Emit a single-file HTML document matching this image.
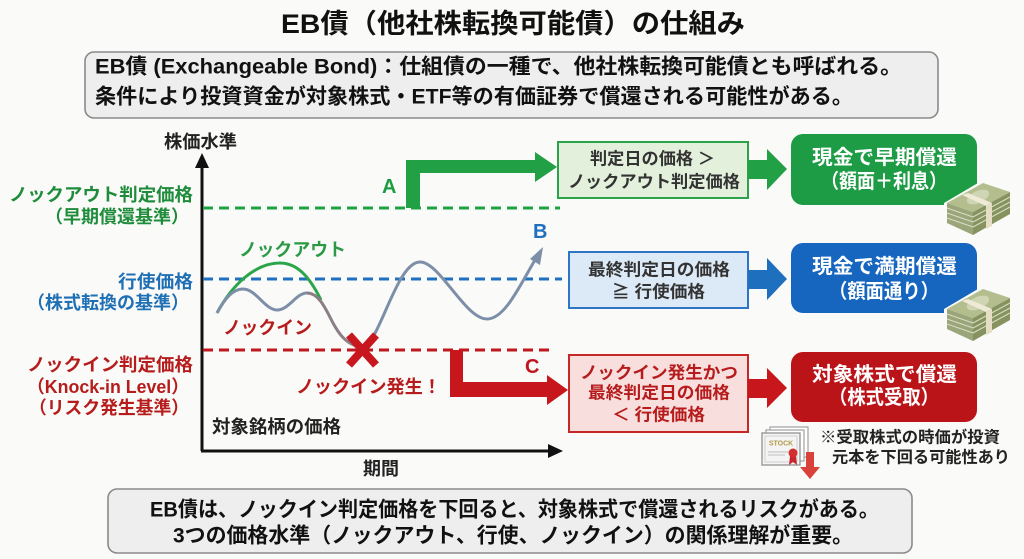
<!DOCTYPE html>
<html><head><meta charset="utf-8"><style>
html,body{margin:0;padding:0;background:#fafaf8;}
svg{display:block;}
text{font-family:"Liberation Sans","Noto Sans CJK JP",sans-serif;font-weight:bold;dominant-baseline:central;}
</style></head><body>
<svg width="1024" height="559" viewBox="0 0 1024 559" xmlns="http://www.w3.org/2000/svg">
<rect width="1024" height="559" fill="#fafaf8"/>
<!-- Title -->
<text x="281" y="24" font-size="27" fill="#111" textLength="464" lengthAdjust="spacingAndGlyphs">EB債（他社株転換可能債）の仕組み</text>
<!-- Info box -->
<rect x="85" y="52" width="853" height="66" rx="9" fill="#eeeeee" stroke="#8a8a8a" stroke-width="1.6"/>
<text x="95" y="67" font-size="21" fill="#111" textLength="807" lengthAdjust="spacingAndGlyphs">EB債 (Exchangeable Bond)：仕組債の一種で、他社株転換可能債とも呼ばれる。</text>
<text x="95" y="97" font-size="21" fill="#111" textLength="758" lengthAdjust="spacingAndGlyphs">条件により投資資金が対象株式・ETF等の有価証券で償還される可能性がある。</text>

<!-- Axes -->
<line x1="202" y1="451" x2="202" y2="166" stroke="#111" stroke-width="3"/>
<polygon points="202,153 195,168 209,168" fill="#111"/>
<line x1="201" y1="451" x2="550" y2="451" stroke="#111" stroke-width="3"/>
<polygon points="563,451 548,444 548,458" fill="#111"/>
<text x="164" y="142" font-size="18" fill="#222" textLength="73" lengthAdjust="spacingAndGlyphs">株価水準</text>
<text x="363" y="469" font-size="18" fill="#222" textLength="36" lengthAdjust="spacingAndGlyphs">期間</text>
<text x="212" y="427" font-size="18" fill="#222" textLength="129" lengthAdjust="spacingAndGlyphs">対象銘柄の価格</text>

<!-- Dashed lines -->
<line x1="203" y1="208" x2="560" y2="208" stroke="#22a046" stroke-width="3" stroke-dasharray="10,6"/>
<line x1="203" y1="279" x2="562" y2="279" stroke="#1f6fbf" stroke-width="3" stroke-dasharray="10,6"/>
<line x1="203" y1="350" x2="554" y2="350" stroke="#c0161d" stroke-width="3" stroke-dasharray="10,6"/>

<!-- Left labels -->
<text x="193" y="195" font-size="18" fill="#1e8c3a" text-anchor="end" textLength="184" lengthAdjust="spacingAndGlyphs">ノックアウト判定価格</text>
<text x="189" y="217" font-size="18" fill="#1e8c3a" text-anchor="end" textLength="144" lengthAdjust="spacingAndGlyphs">（早期償還基準）</text>
<text x="193" y="282" font-size="18" fill="#1f6fb5" text-anchor="end" textLength="75" lengthAdjust="spacingAndGlyphs">行使価格</text>
<text x="189" y="303" font-size="18" fill="#1f6fb5" text-anchor="end" textLength="162" lengthAdjust="spacingAndGlyphs">（株式転換の基準）</text>
<text x="193" y="365" font-size="18" fill="#b71c1c" text-anchor="end" textLength="166" lengthAdjust="spacingAndGlyphs">ノックイン判定価格</text>
<text x="189" y="387" font-size="18" fill="#b71c1c" text-anchor="end" textLength="162" lengthAdjust="spacingAndGlyphs">（Knock-in Level）</text>
<text x="189" y="408" font-size="18" fill="#b71c1c" text-anchor="end" textLength="160" lengthAdjust="spacingAndGlyphs">（リスク発生基準）</text>

<!-- Curves -->
<path d="M217,313 C232,285 255,263 280,263 C300,263 312,282 321,300" fill="none" stroke="#2aa54a" stroke-width="3"/>
<path d="M217,313 C225,298 233,289 243,289 C256,289 265,310 277,310 C289,310 296,293 307,293" fill="none" stroke="#7d8fa8" stroke-width="3"/>
<path d="M307,293 C320,293 327,312 333,323 C339,334 345,342 356,346" fill="none" stroke="#8c7e86" stroke-width="3"/>
<path d="M370,342 C385,320 400,262 420,262 C440,262 465,319 487,319 C505,319 520,285 535,260" fill="none" stroke="#7d8fa8" stroke-width="3"/>
<polygon points="543,247 530,259 540,265" fill="#7d8fa8"/>
<!-- X mark -->
<line x1="349" y1="335" x2="376" y2="365" stroke="#c8171e" stroke-width="8"/>
<line x1="376" y1="335" x2="349" y2="365" stroke="#c8171e" stroke-width="8"/>

<!-- Curve labels -->
<text x="239" y="250" font-size="18" fill="#2a9a45" textLength="107" lengthAdjust="spacingAndGlyphs">ノックアウト</text>
<text x="223" y="328" font-size="18" fill="#b71c1c" textLength="89" lengthAdjust="spacingAndGlyphs">ノックイン</text>
<text x="296" y="387" font-size="18" fill="#b71c1c" textLength="145" lengthAdjust="spacingAndGlyphs">ノックイン発生！</text>
<text x="382" y="187" font-size="20" fill="#1e9c3f">A</text>
<text x="533" y="232" font-size="20" fill="#1f6fbf">B</text>
<text x="525" y="367" font-size="20" fill="#c0161d">C</text>

<!-- Arrow A -->
<polygon points="406,208 406,160 535,160 535,152 557,167 535,182 535,173 420,173 420,208" fill="#22a046"/>
<!-- Arrow C -->
<polygon points="450,350 463,350 463,382 547,382 547,375 568,390 547,405 547,397 450,397" fill="#c8161d"/>

<!-- Condition boxes -->
<rect x="558" y="142" width="190" height="56" fill="#e3f1dc" stroke="#2ca24a" stroke-width="2"/>
<text x="590" y="159" font-size="17" fill="#333" textLength="125" lengthAdjust="spacingAndGlyphs">判定日の価格 ＞</text>
<text x="568" y="182" font-size="17" fill="#333" textLength="172" lengthAdjust="spacingAndGlyphs">ノックアウト判定価格</text>

<rect x="569" y="252" width="179" height="56" fill="#dce9f6" stroke="#2e75c6" stroke-width="2"/>
<text x="588" y="270" font-size="17" fill="#333" textLength="142" lengthAdjust="spacingAndGlyphs">最終判定日の価格</text>
<text x="612" y="292" font-size="17" fill="#333" textLength="93" lengthAdjust="spacingAndGlyphs">≧ 行使価格</text>

<rect x="569" y="355" width="179" height="77" fill="#f9dede" stroke="#c62828" stroke-width="2"/>
<text x="580" y="373" font-size="17" fill="#b71c1c" textLength="158" lengthAdjust="spacingAndGlyphs">ノックイン発生かつ</text>
<text x="588" y="393" font-size="17" fill="#b71c1c" textLength="142" lengthAdjust="spacingAndGlyphs">最終判定日の価格</text>
<text x="612" y="415" font-size="17" fill="#b71c1c" textLength="93" lengthAdjust="spacingAndGlyphs">＜ 行使価格</text>

<!-- Middle arrows -->
<polygon points="748,160 767,160 767,149 787,169 767,190 767,179 748,179" fill="#22a046"/>
<polygon points="748,270 767,270 767,258 787,279 767,300 767,289 748,289" fill="#1f6fbf"/>
<polygon points="748,379 767,379 767,368 787,388 767,408 767,398 748,398" fill="#c8161d"/>

<!-- Result boxes -->
<rect x="791" y="134" width="186" height="71" rx="12" fill="#1e9b45"/>
<text x="812" y="158" font-size="20" fill="#fff" textLength="145" lengthAdjust="spacingAndGlyphs">現金で早期償還</text>
<text x="884" y="182" font-size="20" fill="#fff" text-anchor="middle" textLength="126" lengthAdjust="spacingAndGlyphs">（額面＋利息）</text>

<rect x="791" y="243" width="186" height="70" rx="12" fill="#1665be"/>
<text x="812" y="267" font-size="20" fill="#fff" textLength="145" lengthAdjust="spacingAndGlyphs">現金で満期償還</text>
<text x="884" y="292" font-size="20" fill="#fff" text-anchor="middle" textLength="110" lengthAdjust="spacingAndGlyphs">（額面通り）</text>

<rect x="791" y="352" width="186" height="70" rx="12" fill="#bb1418"/>
<text x="812" y="375" font-size="20" fill="#fff" textLength="145" lengthAdjust="spacingAndGlyphs">対象株式で償還</text>
<text x="884" y="398" font-size="20" fill="#fff" text-anchor="middle" textLength="110" lengthAdjust="spacingAndGlyphs">（株式受取）</text>

<!-- Money stacks -->
<g id="money1">
<polygon points="944,203 983,180 1013,191 1013,216 973,238 944,224" fill="#fafaf8"/>
<polygon points="947,203 973,212 973,235 947,223" fill="#9aa57a"/>
<polygon points="973,212 1010,192 1010,214 973,235" fill="#87935f"/>
<g stroke="#d8dcc4" stroke-width="1">
<line x1="947" y1="208" x2="973" y2="217"/><line x1="947" y1="213" x2="973" y2="222"/><line x1="947" y1="218" x2="973" y2="227"/><line x1="973" y1="217" x2="1010" y2="197"/><line x1="973" y1="222" x2="1010" y2="202"/><line x1="973" y1="227" x2="1010" y2="207"/>
</g>
<polygon points="947,203 983,183 1010,192 973,212" fill="#b3bd8e"/>
<ellipse cx="978" cy="197" rx="12" ry="6" fill="#cfd5b3" transform="rotate(-25 978 197)"/>
<polygon points="962,195 968,193 992,203 986,206" fill="#eeead6"/>
<polygon points="986,206 992,203 992,226 986,229" fill="#e4dfc4"/>
</g>
<use href="#money1" transform="translate(0,106)"/>

<!-- Stock certificate -->
<rect x="770" y="427" width="38" height="30" fill="#fff" stroke="#a0a0a0" stroke-width="1.2"/>
<rect x="766" y="430" width="38" height="31" fill="#fff" stroke="#a0a0a0" stroke-width="1.2"/>
<rect x="762" y="433" width="38" height="32" fill="#f4f4f4" stroke="#999" stroke-width="1.4"/>
<rect x="765" y="436" width="32" height="26" fill="none" stroke="#c8c8c8" stroke-width="0.8"/>
<text x="781" y="444" font-size="7" fill="#b39a4a" text-anchor="middle" style="font-weight:bold">STOCK</text>
<line x1="768" y1="452" x2="788" y2="452" stroke="#bbb" stroke-width="1"/>
<line x1="768" y1="455" x2="785" y2="455" stroke="#bbb" stroke-width="1"/>
<polygon points="790,456 789,465 793,462 797,465 796,456" fill="#c8262a"/>
<circle cx="793" cy="453" r="4.5" fill="#d32f2f"/>
<rect x="806" y="452" width="8" height="16" fill="#d9413a"/>
<polygon points="800,467 820,467 810,479" fill="#d9413a"/>
<text x="820" y="438" font-size="16" fill="#222" textLength="180" lengthAdjust="spacingAndGlyphs">※受取株式の時価が投資</text>
<text x="832" y="458" font-size="16" fill="#222" textLength="178" lengthAdjust="spacingAndGlyphs">元本を下回る可能性あり</text>

<!-- Bottom box -->
<rect x="108" y="489" width="804" height="64" rx="9" fill="#eeeeee" stroke="#8a8a8a" stroke-width="1.6"/>
<text x="150" y="510" font-size="21" fill="#111" textLength="729" lengthAdjust="spacingAndGlyphs">EB債は、ノックイン判定価格を下回ると、対象株式で償還されるリスクがある。</text>
<text x="173" y="536" font-size="21" fill="#111" textLength="680" lengthAdjust="spacingAndGlyphs">3つの価格水準（ノックアウト、行使、ノックイン）の関係理解が重要。</text>
</svg>
</body></html>
